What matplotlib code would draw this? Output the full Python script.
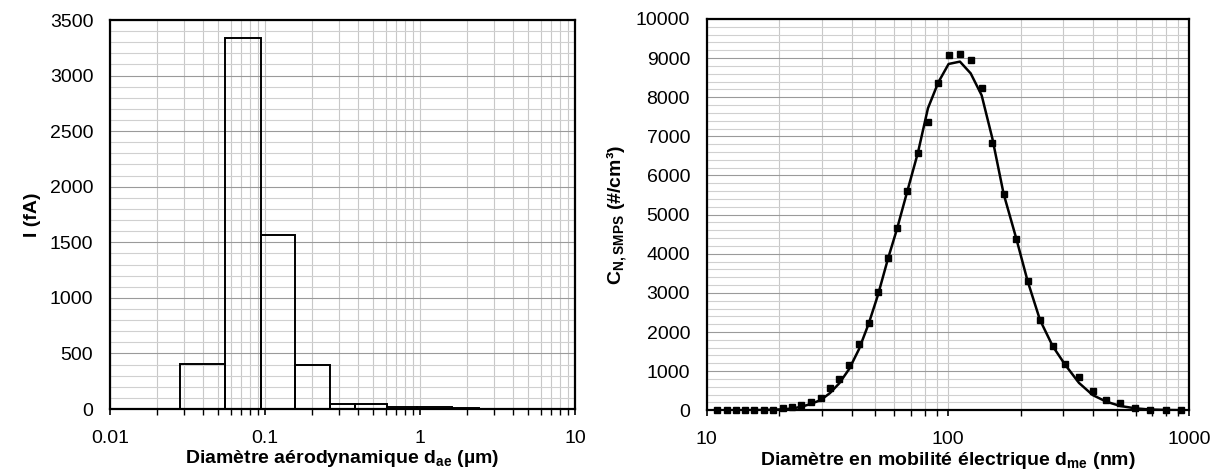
import numpy as np
import matplotlib
matplotlib.use("Agg")
import matplotlib.pyplot as plt
from matplotlib.ticker import LogLocator, FixedLocator, FixedFormatter, MultipleLocator, NullFormatter

plt.rcParams['font.family'] = ['Liberation Sans', 'DejaVu Sans']
plt.rcParams['mathtext.fontset'] = 'custom'
plt.rcParams['mathtext.rm'] = 'Liberation Sans'
plt.rcParams['mathtext.bf'] = 'Liberation Sans:bold'

# ---- Left chart: ELPI stage currents ----
elpi_edges = [0.0283, 0.0556, 0.0945, 0.157, 0.263, 0.383, 0.614, 0.950, 1.60, 2.39]
elpi_current = [405, 3335, 1565, 395, 48, 48, 18, 15, 8]
left_xticks = [0.01, 0.1, 1, 10]
left_xlabels = ['0.01', '0.1', '1', '10']

# ---- Right chart: SMPS distribution ----
smps_d = [11.07, 12.10, 13.22, 14.41, 15.75, 17.28, 18.89, 20.71, 22.57, 24.67,
          26.97, 29.77, 32.43, 35.45, 39.0, 42.77, 46.91, 51.29, 56.39, 61.46,
          67.85, 75.12, 82.62, 91.19, 100.6, 112.1, 124.2, 137.9, 152.7, 170.1,
          191.9, 213.9, 240.6, 271.6, 305.4, 349.1, 397.7, 453.1, 517.9, 597.4,
          687.4, 803.2, 923.8]
smps_meas = [8, 8, 8, 8, 8, 8, 8, 50, 93, 144,
             204, 314, 578, 808, 1158, 1686, 2239, 3032, 3884, 4650,
             5613, 6576, 7368, 8365, 9072, 9097, 8952, 8245, 6840, 5528,
             4386, 3296, 2308, 1630, 1170, 843, 497, 255, 175, 63,
             10, 10, 10]
smps_fit = [0, 0, 1, 2, 4, 8, 15, 25, 45, 90,
            160, 265, 440, 690, 1060, 1560, 2210, 2950, 3870, 4630,
            5600, 6590, 7720, 8380, 8850, 8910, 8610, 8050, 6950, 5530,
            4390, 3300, 2310, 1640, 1170, 700, 390, 220, 110, 50,
            20, 8, 3]
right_xticks = [10, 100, 1000]
right_xlabels = ['10', '100', '1000']

fig = plt.figure(figsize=(12.18, 4.73), dpi=100)
axL = fig.add_axes([0.0903, 0.1353, 0.3818, 0.8224])
axR = fig.add_axes([0.5802, 0.1326, 0.3962, 0.8273])

TICK_FS = 14
LABEL_FS = 14

def style_axes(ax):
    for s in ax.spines.values():
        s.set_linewidth(1.6)
        s.set_color('black')
    ax.set_axisbelow(True)
    ax.grid(True, which='major', axis='y', color='#9a9a9a', linewidth=0.8)
    ax.grid(True, which='minor', axis='y', color='#d0d0d0', linewidth=0.8)
    ax.grid(True, which='both', axis='x', color='#c8c8c8', linewidth=0.8)
    ax.tick_params(axis='y', which='both', length=0, pad=12, labelsize=TICK_FS)
    ax.tick_params(axis='x', which='major', length=4, width=1.2, direction='out', pad=11, labelsize=TICK_FS)
    ax.tick_params(axis='x', which='minor', length=4, width=1.0, direction='out')

# Left
axL.set_xscale('log')
axL.bar(elpi_edges[:-1], elpi_current, width=np.diff(elpi_edges), align='edge',
        fill=False, edgecolor='black', linewidth=1.4, zorder=3)
axL.set_xlim(0.01, 10)
axL.set_ylim(0, 3500)
axL.yaxis.set_major_locator(MultipleLocator(500))
axL.yaxis.set_minor_locator(MultipleLocator(100))
axL.xaxis.set_major_locator(FixedLocator(left_xticks))
axL.xaxis.set_major_formatter(FixedFormatter(left_xlabels))
axL.xaxis.set_minor_locator(LogLocator(base=10, subs=np.arange(2, 10)))
axL.xaxis.set_minor_formatter(NullFormatter())
style_axes(axL)
axL.set_xlabel(r'Diamètre aérodynamique d$_\mathbf{ae}$ (µm)', fontsize=LABEL_FS, fontweight='bold', labelpad=1)
axL.set_ylabel('I (fA)', fontsize=LABEL_FS, fontweight='bold', labelpad=6)

# Right
axR.set_xscale('log')
axR.plot(smps_d, smps_fit, color='black', linewidth=1.8, zorder=3)
axR.plot(smps_d, smps_meas, linestyle='none', marker='s', markersize=5,
         color='black', zorder=4, clip_on=False)
axR.set_xlim(10, 1000)
axR.set_ylim(0, 10000)
axR.yaxis.set_major_locator(MultipleLocator(1000))
axR.yaxis.set_minor_locator(MultipleLocator(200))
axR.xaxis.set_major_locator(FixedLocator(right_xticks))
axR.xaxis.set_major_formatter(FixedFormatter(right_xlabels))
axR.xaxis.set_minor_locator(LogLocator(base=10, subs=np.arange(2, 10)))
axR.xaxis.set_minor_formatter(NullFormatter())
style_axes(axR)
axR.set_xlabel(r'Diamètre en mobilité électrique d$_\mathbf{me}$ (nm)', fontsize=LABEL_FS, fontweight='bold', labelpad=1)
axR.set_ylabel(r'C$_\mathbf{N,SMPS}$ (#/cm³)', fontsize=LABEL_FS, fontweight='bold', labelpad=4)

fig.savefig('out.png', dpi=100)
